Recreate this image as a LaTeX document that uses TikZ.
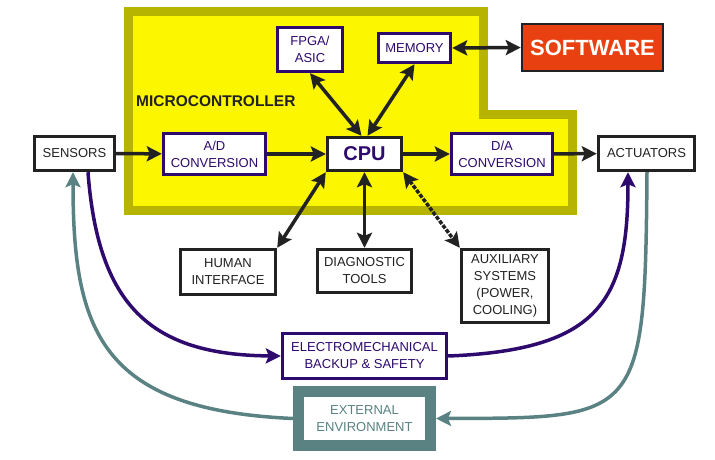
\documentclass[tikz,border=0pt]{standalone}
\usepackage{fontspec}
\setmainfont{Liberation Sans}
\usetikzlibrary{arrows.meta}
\definecolor{purp}{HTML}{2E0A6E}
\definecolor{ylw}{HTML}{FCF700}
\definecolor{olv}{HTML}{B6B400}
\definecolor{teal2}{HTML}{5A8282}
\definecolor{swred}{HTML}{E84010}
\definecolor{blk}{HTML}{222222}
\tikzset{
  tip/.tip={Stealth[length=15pt,width=15pt,inset=3pt]},
  box/.style={draw=blk, line width=3.4pt, fill=white, text=blk, align=center, inner sep=0pt,
    font=\fontsize{13}{17}\selectfont},
  pbox/.style={box, draw=purp, text=purp},
  conn/.style={line width=3.5pt, draw=blk, tip-tip},
  oneway/.style={line width=3.5pt, draw=blk, -tip},
  pcurve/.style={line width=3.5pt, draw=purp, -tip},
  tcurve/.style={line width=3.5pt, draw=teal2, -tip},
}
\begin{document}
\begin{tikzpicture}[x=1pt,y=-1pt]
\useasboundingbox (0,0) rectangle (715,460);
% microcontroller region
\draw[line width=9pt, draw=olv, fill=ylw, miter limit=10]
  (128.5,11.5) -- (483.5,11.5) -- (483.5,114) -- (572.5,114) -- (572.5,210.5) -- (128.5,210.5) -- cycle;
\node[anchor=west, text=blk, font=\fontsize{15.5}{17}\selectfont\bfseries, inner sep=0pt] (mc) at (136,101.5) {MICROCONTROLLER};

\node[box, minimum width=80pt, minimum height=34pt] (sensors) at (74.5,153.5) {SENSORS};
\node[box, minimum width=96pt, minimum height=34pt] (act) at (646.5,153.5) {ACTUATORS};
\node[pbox, minimum width=102pt, minimum height=41pt] (ad) at (214.5,154) {A/D\\CONVERSION};
\node[box, text=purp, minimum width=74pt, minimum height=33pt, font=\fontsize{20}{22}\selectfont\bfseries] (cpu) at (364.5,154) {CPU};
\node[pbox, minimum width=101pt, minimum height=41pt] (da) at (502,154) {D/A\\CONVERSION};
\node[pbox, minimum width=65pt, minimum height=44pt] (fpga) at (310,49.5) {FPGA/\\ASIC};
\node[pbox, minimum width=72pt, minimum height=29pt] (mem) at (414.5,48) {MEMORY};
\node[draw=blk, line width=2.5pt, fill=swred, text=white, inner sep=0pt, minimum width=141pt, minimum height=47pt,
  font=\fontsize{22}{24}\selectfont\bfseries] (sw) at (592.5,47.5) {SOFTWARE};
\node[box, minimum width=95pt, minimum height=45pt] (human) at (228,272) {HUMAN\\INTERFACE};
\node[box, minimum width=94pt, minimum height=43pt] (diag) at (364.5,271) {DIAGNOSTIC\\TOOLS};
\node[box, minimum width=87pt, minimum height=73pt] (aux) at (505,286) {AUXILIARY\\SYSTEMS\\(POWER,\\COOLING)};
\node[pbox, minimum width=164pt, minimum height=45pt] (em) at (364.5,356) {ELECTROMECHANICAL\\BACKUP \& SAFETY};
\node[box, draw=teal2, text=teal2, line width=11pt, minimum width=132pt, minimum height=54pt] (ext) at (364.5,418.5) {EXTERNAL\\ENVIRONMENT};

% connectors
\draw[oneway] (sensors) -- (ad);
\draw[oneway] (ad) -- (cpu);
\draw[oneway] (cpu) -- (da);
\draw[oneway] (da) -- (act);
\draw[conn] (fpga.south) -- ([xshift=-3pt]cpu.north);
\draw[conn] (mem.south) -- ([xshift=3pt]cpu.north);
\draw[conn] (mem.east) -- (sw.west);
\draw[conn] (cpu.south west) -- (human.north east);
\draw[conn] (cpu.south) -- (diag.north);
\draw[conn, dash pattern=on 4pt off 1.5pt] (cpu.south east) -- (aux.north west);

\draw[pcurve] ([xshift=13.5pt]sensors.south) .. controls (98,305) and (150,355) .. (em.west);
\draw[pcurve] (em.east) .. controls (600,350) and (628,300) .. ([xshift=-18.5pt]act.south);
\draw[tcurve] ([xshift=0.5pt]act.south) .. controls (645,420) and (640,418) .. (ext.east);
\draw[tcurve] (ext.west) .. controls (100,410) and (73,330) .. ([xshift=-1.5pt]sensors.south);
\end{tikzpicture}
\end{document}
